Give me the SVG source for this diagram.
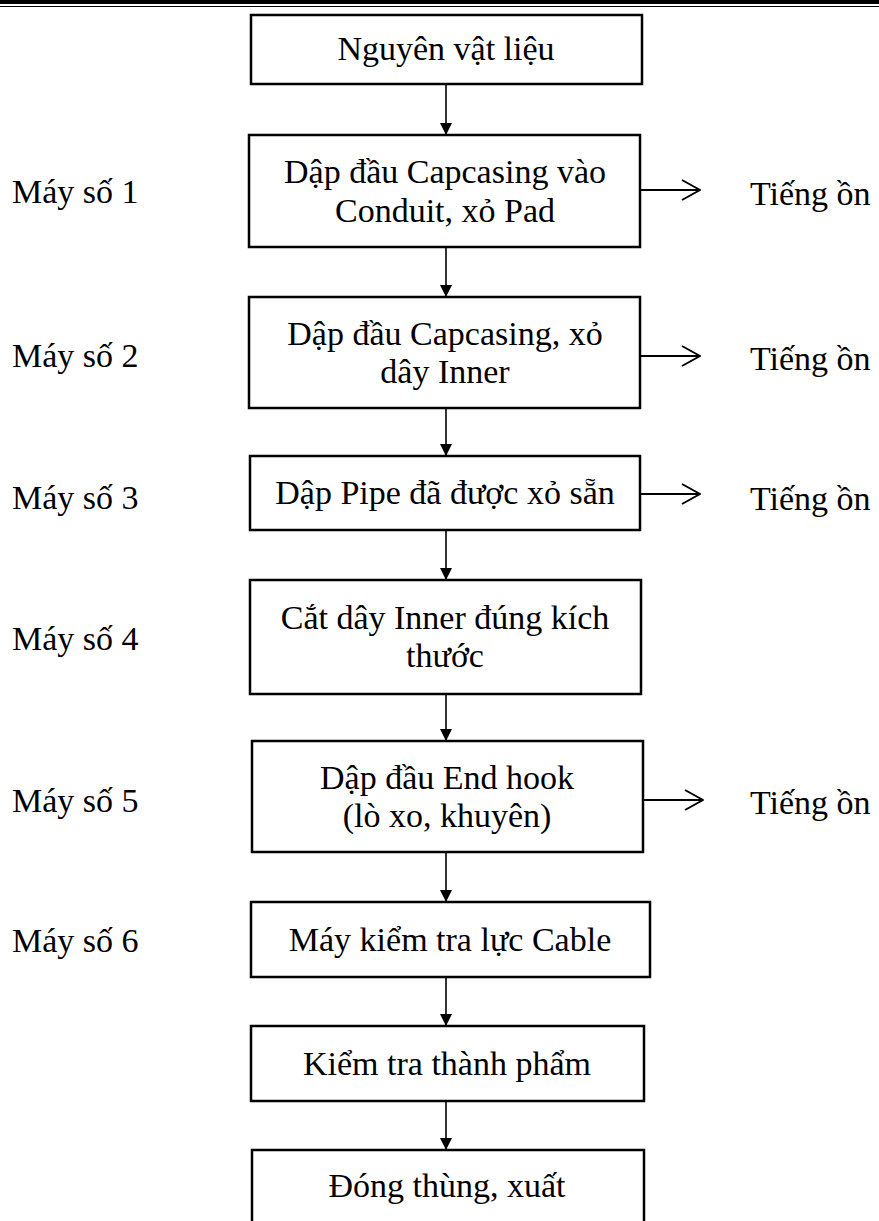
<svg xmlns="http://www.w3.org/2000/svg" width="879" height="1221" viewBox="0 0 879 1221">
  <style>
    text { font-family: "Liberation Serif", "Times New Roman", serif; font-size: 34px; fill: #000; }
    .c { text-anchor: middle; }
    .box { fill: #fff; stroke: #000; stroke-width: 2.5; }
    .flow { stroke: #000; stroke-width: 1.6; fill: none; }
    .side { stroke: #000; stroke-width: 2; fill: none; }
  </style>
  <defs>
    <marker id="tri" viewBox="0 0 12 12" refX="12" refY="6" markerWidth="12" markerHeight="12" markerUnits="userSpaceOnUse" orient="auto">
      <path d="M0,0 L12,6 L0,12 Z" fill="#000"/>
    </marker>
    <marker id="vee" viewBox="0 0 20 22" refX="19" refY="11" markerWidth="20" markerHeight="22" markerUnits="userSpaceOnUse" orient="auto">
      <path d="M1,1 L19,11 L1,21" fill="none" stroke="#000" stroke-width="2"/>
    </marker>
  </defs>

  <rect x="0" y="0" width="879" height="1221" fill="#fff"/>
  <!-- header rule -->
  <rect x="0" y="0" width="879" height="4" fill="#000"/>
  <line x1="0" y1="6.5" x2="879" y2="6.5" stroke="#000" stroke-width="1"/>

  <!-- connectors -->
  <g id="connectors">
    <line class="flow" x1="446" y1="84" x2="446" y2="135" marker-end="url(#tri)"/>
    <line class="flow" x1="446" y1="247" x2="446" y2="297" marker-end="url(#tri)"/>
    <line class="flow" x1="446" y1="408" x2="446" y2="456" marker-end="url(#tri)"/>
    <line class="flow" x1="446" y1="530" x2="446" y2="580" marker-end="url(#tri)"/>
    <line class="flow" x1="446" y1="694" x2="446" y2="741" marker-end="url(#tri)"/>
    <line class="flow" x1="446" y1="852" x2="446" y2="902" marker-end="url(#tri)"/>
    <line class="flow" x1="446" y1="977" x2="446" y2="1026" marker-end="url(#tri)"/>
    <line class="flow" x1="446" y1="1101" x2="446" y2="1150" marker-end="url(#tri)"/>

    <line class="side" x1="640" y1="190" x2="700" y2="190" marker-end="url(#vee)"/>
    <line class="side" x1="640" y1="356" x2="700" y2="356" marker-end="url(#vee)"/>
    <line class="side" x1="640" y1="494" x2="700" y2="494" marker-end="url(#vee)"/>
    <line class="side" x1="643" y1="800" x2="703" y2="800" marker-end="url(#vee)"/>
  </g>

  <!-- process steps -->
  <g id="n1">
    <rect class="box" x="251" y="15" width="391" height="69"/>
    <text class="c" x="446" y="60">Nguyên vật liệu</text>
  </g>
  <g id="n2">
    <rect class="box" x="249" y="135" width="391" height="112"/>
    <text class="c" x="445" y="183">Dập đầu Capcasing vào</text>
    <text class="c" x="445" y="222">Conduit, xỏ Pad</text>
  </g>
  <g id="n3">
    <rect class="box" x="249" y="297" width="391" height="111"/>
    <text class="c" x="445" y="345">Dập đầu Capcasing, xỏ</text>
    <text class="c" x="445" y="383">dây Inner</text>
  </g>
  <g id="n4">
    <rect class="box" x="250" y="456" width="390" height="74"/>
    <text class="c" x="445" y="504">Dập Pipe đã được xỏ sẵn</text>
  </g>
  <g id="n5">
    <rect class="box" x="250" y="580" width="391" height="114"/>
    <text class="c" x="445" y="629">Cắt dây Inner đúng kích</text>
    <text class="c" x="445" y="667">thước</text>
  </g>
  <g id="n6">
    <rect class="box" x="252" y="741" width="391" height="111"/>
    <text class="c" x="447" y="789">Dập đầu End hook</text>
    <text class="c" x="447" y="827">(lò xo, khuyên)</text>
  </g>
  <g id="n7">
    <rect class="box" x="251" y="902" width="399" height="75"/>
    <text class="c" x="450" y="951">Máy kiểm tra lực Cable</text>
  </g>
  <g id="n8">
    <rect class="box" x="251" y="1026" width="393" height="75"/>
    <text class="c" x="447" y="1075">Kiểm tra thành phẩm</text>
  </g>
  <g id="n9">
    <rect class="box" x="252" y="1150" width="392" height="90"/>
    <text class="c" x="447" y="1197">Đóng thùng, xuất</text>
  </g>

  <!-- machine labels -->
  <g id="machines">
    <text x="12" y="203">Máy số 1</text>
    <text x="12" y="367">Máy số 2</text>
    <text x="12" y="509">Máy số 3</text>
    <text x="12" y="650">Máy số 4</text>
    <text x="12" y="812">Máy số 5</text>
    <text x="12" y="952">Máy số 6</text>
  </g>

  <!-- noise outputs -->
  <g id="noise">
    <text x="750" y="205">Tiếng ồn</text>
    <text x="750" y="370">Tiếng ồn</text>
    <text x="750" y="510">Tiếng ồn</text>
    <text x="750" y="814">Tiếng ồn</text>
  </g>
</svg>
